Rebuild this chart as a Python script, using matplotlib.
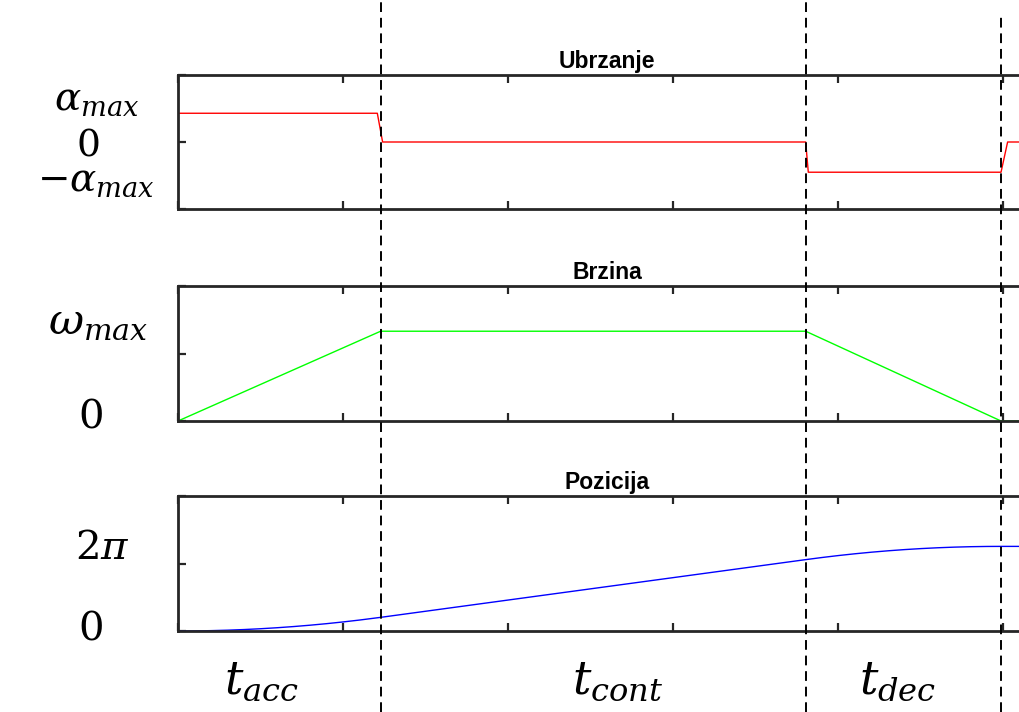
import numpy as np
import matplotlib
matplotlib.use('Agg')
from matplotlib import pyplot as plt

plt.rcParams['mathtext.fontset'] = 'dejavuserif'
plt.rcParams['font.family'] = ['Liberation Sans', 'DejaVu Sans']

# phase boundaries (s)
t_acc = 0.307
t_dec = 0.951
t_end = 1.247
t_max = 1.3

# acceleration (rad/s^2) - sampled steps
acc_t = [0.0, 0.302, 0.310, 0.951, 0.955, 1.247, 1.257, 1.3]
acc_v = [42.9, 42.9, 0.0, 0.0, -45.1, -45.1, 0.0, 0.0]

# velocity (rad/s)
vel_t = [0.0, 0.307, 0.951, 1.247, 1.3]
vel_v = [0.0, 13.3, 13.3, 0.0, 0.0]

# position (rad)
pos_t = [0.0, 0.025, 0.05, 0.075, 0.1, 0.125, 0.15, 0.175, 0.2, 0.225, 0.25, 0.275, 0.307,
         0.951, 0.976, 1.001, 1.026, 1.051, 1.076, 1.101, 1.126, 1.151, 1.176, 1.201, 1.226, 1.247, 1.3]
pos_v = [0.0, 0.013, 0.054, 0.121, 0.215, 0.335, 0.483, 0.657, 0.858, 1.086, 1.341, 1.622, 2.021,
         10.573, 10.891, 11.182, 11.444, 11.678, 11.883, 12.061, 12.210, 12.331, 12.424, 12.489, 12.526, 12.535, 12.535]

titles = ['Ubrzanje', 'Brzina', 'Pozicija']
W, H = 1020, 712
fig = plt.figure(figsize=(W/100, H/100), dpi=100)

left = 178/W
width = (t_max*660)/W
boxes = [(75, 209), (286, 421), (496, 631)]
axs = []
for (top, bot), title in zip(boxes, titles):
    ax = fig.add_axes([left, 1-bot/H, width, (bot-top)/H])
    ax.set_title(title, fontsize=16.5, fontweight='bold', pad=5)
    ax.set_xlim(0, t_max)
    ax.set_xticks(np.arange(0, 1.31, 0.25))
    ax.tick_params(direction='in', length=6, width=1.6, color='#262626',
                   top=True, right=False, labelbottom=False, labelleft=False)
    for s in ax.spines.values():
        s.set_linewidth(2)
        s.set_color('#262626')
    axs.append(ax)

axs[0].plot(acc_t, acc_v, color='#ff0000', lw=1)
axs[0].set_ylim(-100, 100)
axs[0].set_yticks([-100, 0, 100])
axs[1].plot(vel_t, vel_v, color='#00ff00', lw=1)
axs[1].set_ylim(0, 20)
axs[1].set_yticks([0, 10, 20])
axs[2].plot(pos_t, pos_v, color='#0000ff', lw=1)
axs[2].set_ylim(0, 20)
axs[2].set_yticks([0, 10, 20])

# custom y labels
def lab(x, y, s, size):
    fig.text(x/W, 1-y/H, s, fontsize=size, ha='center', va='center')

lab(97, 100, r'$\alpha_{max}$', 28)
lab(88, 146, r'$0$', 27)
lab(96, 181, r'$-\alpha_{max}$', 28)
lab(98, 322, r'$\omega_{max}$', 31)
lab(90, 417, r'$0$', 29)
lab(102, 548, r'$2\pi$', 29)
lab(90, 628, r'$0$', 29)
lab(261, 682, r'$t_{acc}$', 33)
lab(618, 682, r'$t_{cont}$', 33)
lab(898, 682, r'$t_{dec}$', 33)

# dashed phase lines over whole figure
over = fig.add_axes([left, 0, width, 1])
over.set_xlim(0, t_max)
over.set_ylim(0, H)
over.axis('off')
over.patch.set_alpha(0)
over.vlines([t_acc, t_dec], 0, H, colors='black', linestyles=(0, (5, 3)), lw=1.4)
over.vlines([t_end], 0, H-15, colors='black', linestyles=(0, (5, 3)), lw=1.4)

plt.savefig('out.png', dpi=100)
